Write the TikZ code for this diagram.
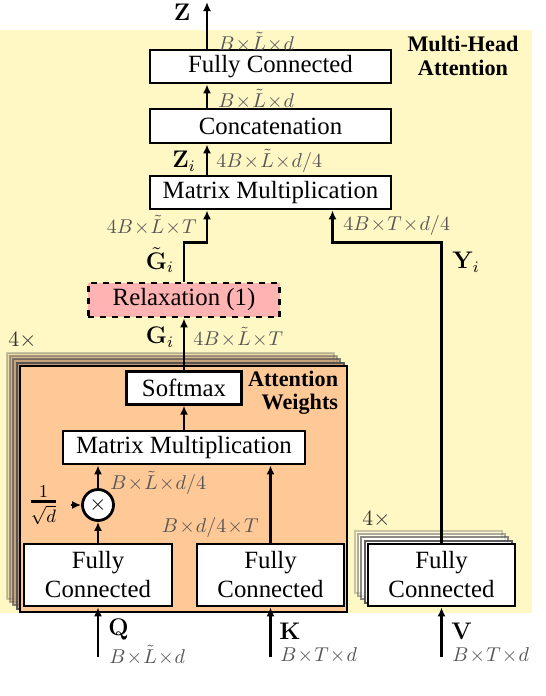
\documentclass[tikz,border=0pt]{standalone}
\usepackage{amsmath}
\usepackage[no-math]{fontspec}
\setmainfont{Liberation Serif}
\usetikzlibrary{arrows.meta,calc}
\definecolor{bgyellow}{HTML}{FFF8C4}
\definecolor{awfill}{HTML}{FFC997}
\definecolor{relaxfill}{HTML}{FFB3B3}
\definecolor{labgray}{HTML}{555555}
\newcommand{\tms}{\mkern-3mu\times\mkern-3mu}
\begin{document}
\begin{tikzpicture}[x=0.5pt,y=-0.5pt,
  box/.style={draw=black,line width=1.4pt,fill=white,inner sep=0pt,align=center,font=\fontsize{12.4}{14.5}\selectfont},
  arr/.style={line width=1.1pt,-{Latex[length=4.5pt,width=4pt]}},
  dimlab/.style={text=labgray,font=\fontsize{9.8}{11}\selectfont,inner sep=0pt},
  varlab/.style={font=\fontsize{11.5}{13}\selectfont,inner sep=0pt},
  ttl/.style={font=\fontsize{11.1}{11.6}\selectfont\bfseries,inner sep=0pt},
  layer/.style={line width=1pt}]
\useasboundingbox (0,0) rectangle (546,696);
\fill[bgyellow] (0,30) rectangle (532,613);

% attention weights stack
\foreach \k/\op in {4/0.3,3/0.45,2/0.65,1/0.9}{
  \draw[layer,draw=black!70,fill=awfill!75!black,opacity=\op,shift={(-3.3*\k,-3.3*\k)}] (20,366) rectangle (347,612);
}
\node[draw=black,line width=1.1pt,fill=awfill,minimum width=163.5pt,minimum height=123pt,inner sep=0pt] (aw) at (183.5,489) {};

% V stack
\foreach \k/\op in {4/0.3,3/0.45,2/0.65,1/0.9}{
  \draw[layer,draw=black!70,fill=white,opacity=\op,shift={(-3.3*\k,-3.3*\k)}] (368,544) rectangle (515,606);
}

% boxes
\node[box,minimum width=120.5pt,minimum height=16.5pt] (fc3) at (270.5,66.5) {Fully Connected};
\node[box,minimum width=120.5pt,minimum height=17pt] (concat) at (270.5,126) {Concatenation};
\node[box,minimum width=120.5pt,minimum height=16.5pt] (mm2) at (270.5,192.5) {Matrix Multiplication};
\node[box,dashed,fill=relaxfill,minimum width=95.8pt,minimum height=17pt] (relax) at (184,300) {Relaxation (1)};
\node[box,minimum width=57.5pt,minimum height=16.25pt] (softmax) at (184,388) {Softmax};
\node[box,minimum width=121pt,minimum height=16.5pt] (mm1) at (184,447.5) {Matrix Multiplication};
\node[box,circle,minimum size=15.5pt,font=\fontsize{11}{11}\selectfont] (mult) at (98,505) {$\times$};
\node[box,minimum width=74pt,minimum height=31pt] (fcq) at (98,575) {Fully\\Connected};
\node[box,minimum width=73.5pt,minimum height=31pt] (fck) at (270.5,575) {Fully\\Connected};
\node[box,minimum width=73.5pt,minimum height=31pt] (fcv) at (441.5,575) {Fully\\Connected};

% titles
\node[ttl,align=center] (mhat) at (463,56) {Multi-Head\\Attention};
\node[ttl,align=right,anchor=east] (awt) at (338.5,393) {Attention\\Weights};

% coordinates
\coordinate (ztop) at (207,2);
\coordinate (ja) at (184,242.5);
\coordinate (rb) at (332.5,242.5);
\coordinate (qin) at (98,657);
\coordinate (kin) at (270.5,657);
\coordinate (vin) at (441.5,657);

% connectors
\draw[arr] (ztop |- fc3.north) -- (ztop);
\draw[arr] (ztop |- concat.north) -- (ztop |- fc3.south);
\draw[arr] (ztop |- mm2.north) -- (ztop |- concat.south);
\draw[arr] (relax.north) -- (ja) -| (ztop |- mm2.south);
\draw[arr] (fcv.north) |- (rb) -- (rb |- mm2.south);
\draw[arr] (softmax.north) -- (relax.south);
\draw[arr] (mm1.north) -- (softmax.south);
\draw[arr] (fcq.north) -- (mult.south);
\draw[arr] (mult.north) -- (mult.north |- mm1.south);
\draw[arr] (fck.north) -- (fck.north |- mm1.south);
\draw[arr] (qin) -- (fcq.south);
\draw[arr] (kin) -- (fck.south);
\draw[arr] (vin) -- (fcv.south);
\node[inner sep=0pt,font=\fontsize{13}{13}\selectfont] (sc) at (43.5,505) {$\genfrac{}{}{1.4pt}{}{1}{\sqrt{d}}$};
\draw[arr] ([xshift=6pt]sc.east) -- (mult.west);

% labels
\node[varlab] (zl) at (182,12) {$\mathbf{Z}$};
\node[dimlab,anchor=west] (d1) at (218,42) {$B\tms\tilde{L}\tms d$};
\node[dimlab,anchor=west] (d2) at (218,99) {$B\tms\tilde{L}\tms d$};
\node[varlab] (zil) at (184,161) {$\mathbf{Z}_i$};
\node[dimlab,anchor=west] (d3) at (216,161) {$4B\tms\tilde{L}\tms d/4$};
\node[dimlab,anchor=east] (d4) at (197,225) {$4B\tms\tilde{L}\tms T$};
\node[dimlab,anchor=west] (d5) at (343,225) {$4B\tms T\tms d/4$};
\node[varlab] (gtl) at (160,260) {$\tilde{\mathbf{G}}_i$};
\node[varlab] (yil) at (466,262) {$\mathbf{Y}_i$};
\node[varlab] (gil) at (160,337) {$\mathbf{G}_i$};
\node[dimlab,anchor=west] (d6) at (193,337) {$4B\tms\tilde{L}\tms T$};
\node[inner sep=0pt,text=black!80,font=\fontsize{10.5}{11}\selectfont,anchor=west] (four1) at (8,340) {$4\times$};
\node[inner sep=0pt,text=black!80,font=\fontsize{10.5}{11}\selectfont,anchor=west] (four2) at (362,519) {$4\times$};
\node[dimlab,anchor=west] (d7) at (110,483) {$B\tms\tilde{L}\tms d/4$};
\node[dimlab,anchor=east] (d8) at (259,527) {$B\tms d/4\tms T$};
\node[varlab,anchor=west] (ql) at (108,630) {$\mathbf{Q}$};
\node[dimlab,anchor=west] (d9) at (109,655) {$B\tms\tilde{L}\tms d$};
\node[varlab,anchor=west] (kl) at (279,631) {$\mathbf{K}$};
\node[dimlab,anchor=west] (d10) at (280,655) {$B\tms T\tms d$};
\node[varlab,anchor=west] (vl) at (451,631) {$\mathbf{V}$};
\node[dimlab,anchor=west] (d11) at (452,655) {$B\tms T\tms d$};
\end{tikzpicture}
\end{document}
